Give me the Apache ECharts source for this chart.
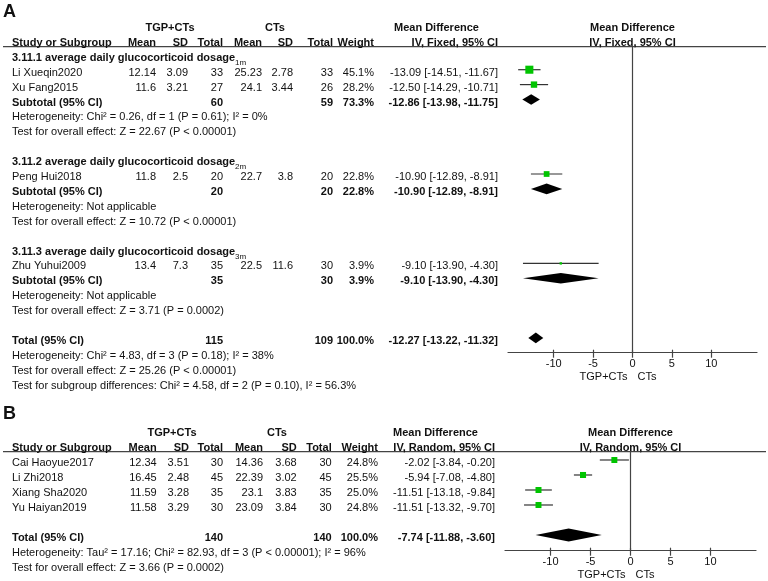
<!DOCTYPE html>
<html lang="en">
<head>
    <meta charset="utf-8" />
    <title>Forest plot</title>
    <style>
        html, body { margin: 0; padding: 0; background: #fff; }
    </style>
</head>
<body>
    <div id="main" style="width:768px;height:581px;"></div>
    <script src="https://cdn.jsdelivr.net/npm/echarts@6/dist/echarts.min.js"></script>
    <script>
        // ---- panel A data ----
        var studiesA = ['Li Xueqin2020', 'Xu Fang2015', 'Peng Hui2018', 'Zhu Yuhui2009'];
        var groupOfA = [0, 0, 1, 2];
        var tgpMeanA = [12.14, 11.6, 11.8, 13.4];
        var tgpSdA = [3.09, 3.21, 2.5, 7.3];
        var tgpNA = [33, 27, 20, 35];
        var ctMeanA = [25.23, 24.1, 22.7, 22.5];
        var ctSdA = [2.78, 3.44, 3.8, 11.6];
        var ctNA = [33, 26, 20, 30];
        var weightA = [45.1, 28.2, 22.8, 3.9];
        var mdA = [-13.09, -12.50, -10.90, -9.10];
        var loA = [-14.51, -14.29, -12.89, -13.90];
        var hiA = [-11.67, -10.71, -8.91, -4.30];

        var groupNamesA = ['3.11.1 average daily glucocorticoid dosage', '3.11.2 average daily glucocorticoid dosage', '3.11.3 average daily glucocorticoid dosage'];
        var groupSubsA = ['1m', '2m', '3m'];
        var groupTgpNA = [60, 20, 35];
        var groupCtNA = [59, 20, 30];
        var groupWeightA = [73.3, 22.8, 3.9];
        var groupMdA = [-12.86, -10.90, -9.10];
        var groupLoA = [-13.98, -12.89, -13.90];
        var groupHiA = [-11.75, -8.91, -4.30];
        var groupHetA = ['Heterogeneity: Chi² = 0.26, df = 1 (P = 0.61); I² = 0%', 'Heterogeneity: Not applicable', 'Heterogeneity: Not applicable'];
        var groupTestA = ['Test for overall effect: Z = 22.67 (P < 0.00001)', 'Test for overall effect: Z = 10.72 (P < 0.00001)', 'Test for overall effect: Z = 3.71 (P = 0.0002)'];

        var totalA = { tgpN: 115, ctN: 109, weight: 100.0, md: -12.27, lo: -13.22, hi: -11.32 };
        var footA = ['Heterogeneity: Chi² = 4.83, df = 3 (P = 0.18); I² = 38%', 'Test for overall effect: Z = 25.26 (P < 0.00001)', 'Test for subgroup differences: Chi² = 4.58, df = 2 (P = 0.10), I² = 56.3%'];

        // ---- panel B data ----
        var studiesB = ['Cai Haoyue2017', 'Li Zhi2018', 'Xiang Sha2020', 'Yu Haiyan2019'];
        var tgpMeanB = [12.34, 16.45, 11.59, 11.58];
        var tgpSdB = [3.51, 2.48, 3.28, 3.29];
        var tgpNB = [30, 45, 35, 30];
        var ctMeanB = [14.36, 22.39, 23.1, 23.09];
        var ctSdB = [3.68, 3.02, 3.83, 3.84];
        var ctNB = [30, 45, 35, 30];
        var weightB = [24.8, 25.5, 25.0, 24.8];
        var mdB = [-2.02, -5.94, -11.51, -11.51];
        var loB = [-3.84, -7.08, -13.18, -13.32];
        var hiB = [-0.20, -4.80, -9.84, -9.70];
        var totalB = { tgpN: 140, ctN: 140, weight: 100.0, md: -7.74, lo: -11.88, hi: -3.60 };
        var footB = ['Heterogeneity: Tau² = 17.16; Chi² = 82.93, df = 3 (P < 0.00001); I² = 96%', 'Test for overall effect: Z = 3.66 (P = 0.0002)'];

        var tickValues = [-10, -5, 0, 5, 10];
        var favourLabels = ['TGP+CTs', 'CTs'];

        var FONT = "'Liberation Sans', Arial, sans-serif";
        var GREEN = '#00c400';
        var INK = '#111';
        var LINE = '#444';

        function fmtCI(md, lo, hi) {
            return md.toFixed(2) + ' [' + lo.toFixed(2) + ', ' + hi.toFixed(2) + ']';
        }

        // 表格文字
        function tx(items, row, x, text, align, bold, extra) {
            var it = { row: row, x: x, text: String(text), align: align || 'left', bold: !!bold };
            if (extra) { for (var k in extra) it[k] = extra[k]; }
            items.push(it);
        }

        function header(items, c, method) {
            tx(items, 0, c.tgpC, 'TGP+CTs', 'center', true);
            tx(items, 0, c.ctC, 'CTs', 'center', true);
            tx(items, 0, c.hdrL, 'Mean Difference', 'left', true);
            tx(items, 0, 0, 'Mean Difference', 'center', true, { zero: true });
            tx(items, 1, c.study, 'Study or Subgroup', 'left', true);
            tx(items, 1, c.m1, 'Mean', 'right', true);
            tx(items, 1, c.s1, 'SD', 'right', true);
            tx(items, 1, c.n1, 'Total', 'right', true);
            tx(items, 1, c.m2, 'Mean', 'right', true);
            tx(items, 1, c.s2, 'SD', 'right', true);
            tx(items, 1, c.n2, 'Total', 'right', true);
            tx(items, 1, c.w, 'Weight', 'right', true);
            tx(items, 1, c.ci, method, 'right', true);
            tx(items, 1, 0, method, 'center', true, { zero: true });
            tx(items, 0, -5, favourLabels[0], 'right', false, { zero: true, axisDy: 24.5 });
            tx(items, 0, 5, favourLabels[1], 'left', false, { zero: true, axisDy: 24.5 });
        }

        function studyRow(items, c, r, name, m1, s1, n1, m2, s2, n2, w, md, lo, hi) {
            tx(items, r, c.study, name, 'left', false);
            tx(items, r, c.m1, m1, 'right', false);
            tx(items, r, c.s1, s1, 'right', false);
            tx(items, r, c.n1, n1, 'right', false);
            tx(items, r, c.m2, m2, 'right', false);
            tx(items, r, c.s2, s2, 'right', false);
            tx(items, r, c.n2, n2, 'right', false);
            tx(items, r, c.w, w.toFixed(1) + '%', 'right', false);
            tx(items, r, c.ci, fmtCI(md, lo, hi), 'right', false);
        }

        function pooledRow(items, c, r, label, n1, n2, w, md, lo, hi) {
            tx(items, r, c.study, label, 'left', true);
            tx(items, r, c.n1, n1, 'right', true);
            tx(items, r, c.n2, n2, 'right', true);
            tx(items, r, c.w, w.toFixed(1) + '%', 'right', true);
            tx(items, r, c.ci, fmtCI(md, lo, hi), 'right', true);
        }

        var colA = { study: 12, m1: 156, s1: 188, n1: 223, m2: 262, s2: 293, n2: 333, w: 374, ci: 498, hdrL: 394, tgpC: 170, ctC: 275 };
        var colB = { study: 12, m1: 156.7, s1: 189, n1: 223, m2: 263, s2: 296.7, n2: 331.7, w: 378, ci: 495, hdrL: 393, tgpC: 172, ctC: 277 };

        // panel A table + marks
        var textA = [], marksA = [], diamondsA = [];
        header(textA, colA, 'IV, Fixed, 95% CI');
        var r = 2;
        for (var g = 0; g < groupNamesA.length; g++) {
            tx(textA, r, colA.study, groupNamesA[g], 'left', true);
            tx(textA, r, 235, groupSubsA[g], 'left', false, { size: 8, dy: 5 });
            r++;
            for (var i = 0; i < studiesA.length; i++) {
                if (groupOfA[i] !== g) continue;
                studyRow(textA, colA, r, studiesA[i], tgpMeanA[i], tgpSdA[i], tgpNA[i], ctMeanA[i], ctSdA[i], ctNA[i], weightA[i], mdA[i], loA[i], hiA[i]);
                marksA.push({ row: r, md: mdA[i], lo: loA[i], hi: hiA[i], w: weightA[i] });
                r++;
            }
            pooledRow(textA, colA, r, 'Subtotal (95% CI)', groupTgpNA[g], groupCtNA[g], groupWeightA[g], groupMdA[g], groupLoA[g], groupHiA[g]);
            diamondsA.push({ row: r, md: groupMdA[g], lo: groupLoA[g], hi: groupHiA[g] });
            r++;
            tx(textA, r++, colA.study, groupHetA[g], 'left', false);
            tx(textA, r++, colA.study, groupTestA[g], 'left', false);
            r++;
        }
        pooledRow(textA, colA, r, 'Total (95% CI)', totalA.tgpN, totalA.ctN, totalA.weight, totalA.md, totalA.lo, totalA.hi);
        diamondsA.push({ row: r, md: totalA.md, lo: totalA.lo, hi: totalA.hi });
        r++;
        footA.forEach(function (s) { tx(textA, r++, colA.study, s, 'left', false); });

        // panel B table + marks
        var textB = [], marksB = [], diamondsB = [];
        header(textB, colB, 'IV, Random, 95% CI');
        r = 2;
        for (var j = 0; j < studiesB.length; j++) {
            studyRow(textB, colB, r, studiesB[j], tgpMeanB[j], tgpSdB[j], tgpNB[j], ctMeanB[j], ctSdB[j], ctNB[j], weightB[j], mdB[j], loB[j], hiB[j]);
            marksB.push({ row: r, md: mdB[j], lo: loB[j], hi: hiB[j], w: weightB[j] });
            r++;
        }
        r++;
        pooledRow(textB, colB, r, 'Total (95% CI)', totalB.tgpN, totalB.ctN, totalB.weight, totalB.md, totalB.lo, totalB.hi);
        diamondsB.push({ row: r, md: totalB.md, lo: totalB.lo, hi: totalB.hi });
        r++;
        footB.forEach(function (s) { tx(textB, r++, colB.study, s, 'left', false); });

        var yRangeA = [1.456, 21.993];
        var yRangeB = [1.447, 8.047];

        function textRender(items, yMax) {
            return function (params, api) {
                var it = items[params.dataIndex];
                var base = api.coord([0, it.row]);
                var x = it.zero ? base[0] + it.x : it.x;
                var y = it.axisDy != null ? api.coord([0, yMax])[1] + it.axisDy : base[1] + 3 + (it.dy || 0);
                var size = it.size || 11;
                return {
                    type: 'text', x: x, y: y, silent: true,
                    style: {
                        text: it.text, align: it.align, verticalAlign: 'middle',
                        font: (it.bold ? 'bold ' : '') + size + 'px ' + FONT, fill: INK
                    }
                };
            };
        }

        function markRender(items) {
            return function (params, api) {
                var it = items[params.dataIndex];
                var p = api.coord([it.md, it.row]);
                var l = api.coord([it.lo, it.row]);
                var h = api.coord([it.hi, it.row]);
                var s = 1.2 * Math.sqrt(it.w);
                return {
                    type: 'group', children: [
                        { type: 'line', shape: { x1: l[0], y1: l[1], x2: h[0], y2: h[1] }, style: { stroke: '#333', lineWidth: 1.2 } },
                        { type: 'rect', shape: { x: p[0] - s / 2, y: p[1] - s / 2, width: s, height: s }, style: { fill: GREEN } }
                    ]
                };
            };
        }

        function diamondRender(items, half) {
            return function (params, api) {
                var it = items[params.dataIndex];
                var p = api.coord([it.md, it.row]);
                var l = api.coord([it.lo, it.row]);
                var h = api.coord([it.hi, it.row]);
                return {
                    type: 'polygon',
                    shape: { points: [[l[0], l[1]], [p[0], p[1] - half], [h[0], h[1]], [p[0], p[1] + half]] },
                    style: { fill: '#000' }
                };
            };
        }

        function mainX(gi, min, max) {
            return {
                type: 'value', gridIndex: gi, min: min, max: max, position: 'bottom',
                axisLine: { show: true, onZero: false, lineStyle: { color: LINE, width: 1.2 } },
                axisTick: { show: true, length: 5, customValues: tickValues, lineStyle: { color: LINE, width: 1.2 } },
                axisLabel: { show: true, customValues: tickValues, margin: 6, fontSize: 11, fontFamily: FONT, color: INK },
                splitLine: { show: false }
            };
        }
        function innerX(gi, min, max) {
            return {
                type: 'value', gridIndex: gi, min: min, max: max, position: 'bottom', offset: 0,
                axisLine: { show: false },
                axisTick: { show: true, inside: true, length: 3, customValues: tickValues, lineStyle: { color: LINE, width: 1.2 } },
                axisLabel: { show: false },
                splitLine: { show: false }
            };
        }
        function hiddenY(gi, range) {
            return { type: 'value', gridIndex: gi, inverse: true, min: range[0], max: range[1], show: false };
        }

        var zeroLine = {
            silent: true, symbol: ['none', 'none'], label: { show: false },
            lineStyle: { color: LINE, width: 1.2, type: 'solid' },
            data: [{ xAxis: 0 }]
        };

        var myChart = echarts.init(document.getElementById('main'));
        var option = {
            animation: false,
            backgroundColor: '#fff',
            grid: [
                { left: 508, width: 249, top: 46.7, height: 306 },
                { left: 505, width: 251, top: 451.7, height: 99 }
            ],
            xAxis: [mainX(0, -15.8, 15.8), innerX(0, -15.8, 15.8), mainX(1, -15.7, 15.7), innerX(1, -15.7, 15.7)],
            yAxis: [hiddenY(0, yRangeA), hiddenY(1, yRangeB)],
            graphic: [
                { type: 'text', left: 3, top: 3, style: { text: 'A', font: 'bold 18px ' + FONT, fill: INK } },
                { type: 'text', left: 3, top: 405, style: { text: 'B', font: 'bold 18px ' + FONT, fill: INK } },
                { type: 'line', shape: { x1: 3, y1: 46.7, x2: 766, y2: 46.7 }, style: { stroke: LINE, lineWidth: 1.3 } },
                { type: 'line', shape: { x1: 3, y1: 451.7, x2: 766, y2: 451.7 }, style: { stroke: LINE, lineWidth: 1.3 } }
            ],
            series: [
                { type: 'custom', name: 'textA', xAxisIndex: 0, yAxisIndex: 0, clip: false, data: textA.map(function (t) { return [0, t.row]; }), renderItem: textRender(textA, yRangeA[1]) },
                { type: 'custom', name: 'studiesA', xAxisIndex: 0, yAxisIndex: 0, data: marksA.map(function (m) { return [m.md, m.row]; }), renderItem: markRender(marksA), markLine: zeroLine },
                { type: 'custom', name: 'pooledA', xAxisIndex: 0, yAxisIndex: 0, data: diamondsA.map(function (d) { return [d.md, d.row]; }), renderItem: diamondRender(diamondsA, 5.3) },
                { type: 'custom', name: 'textB', xAxisIndex: 2, yAxisIndex: 1, clip: false, data: textB.map(function (t) { return [0, t.row]; }), renderItem: textRender(textB, yRangeB[1]) },
                { type: 'custom', name: 'studiesB', xAxisIndex: 2, yAxisIndex: 1, data: marksB.map(function (m) { return [m.md, m.row]; }), renderItem: markRender(marksB), markLine: zeroLine },
                { type: 'custom', name: 'pooledB', xAxisIndex: 2, yAxisIndex: 1, data: diamondsB.map(function (d) { return [d.md, d.row]; }), renderItem: diamondRender(diamondsB, 6.5) }
            ]
        };
        myChart.setOption(option);
    </script>
</body>
</html>
